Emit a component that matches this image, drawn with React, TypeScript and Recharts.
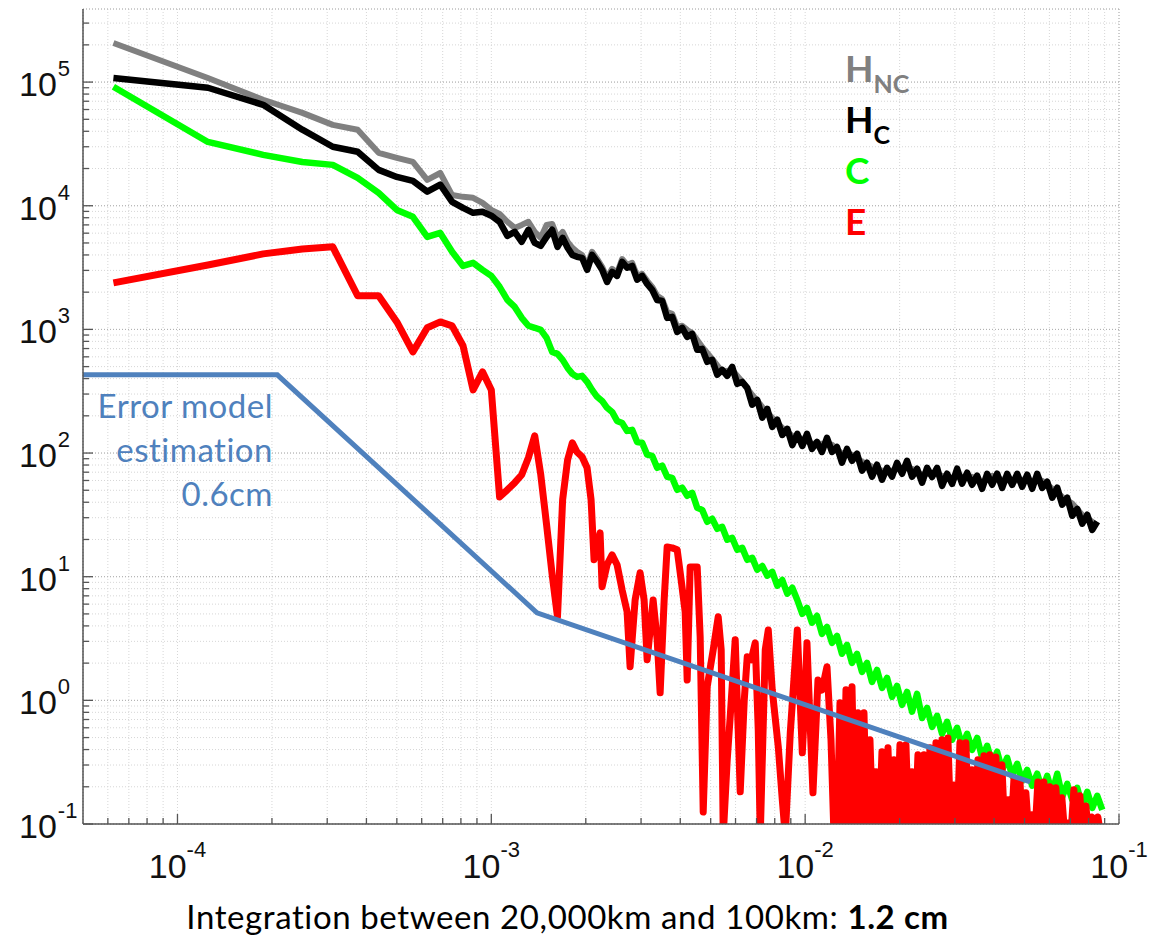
import React from 'react';
import { LineChart, Line, XAxis, YAxis, CartesianGrid, Legend } from 'recharts';

const CHART_W = 1151;
const CHART_H = 942;
const AXIS_COLOR = '#555555';
const TICK_FONT = '"Liberation Sans", Arial, Helvetica, sans-serif';
const TEXT_FONT = 'Lato, "Open Sans", sans-serif';

// shared frequency grid (cycles/km) for H_NC, H_C and C
const freqGrid = [
  6.25e-5, 1.25e-4, 1.875e-4, 2.5e-4, 3.125e-4, 3.75e-4, 4.375e-4, 5e-4, 5.625e-4, 6.25e-4,
  6.875e-4, 7.5e-4, 8.125e-4, 8.75e-4, 9.375e-4, 1e-3, 1.0625e-3, 1.125e-3, 1.1875e-3, 1.25e-3,
  1.3125e-3, 1.375e-3, 1.4375e-3, 1.5e-3, 1.5625e-3, 1.625e-3, 1.6875e-3, 1.75e-3, 1.8125e-3, 1.875e-3,
  1.946e-3, 2.019e-3, 2.094e-3, 2.173e-3, 2.254e-3, 2.338e-3, 2.426e-3, 2.516e-3, 2.611e-3, 2.708e-3,
  2.81e-3, 2.915e-3, 3.024e-3, 3.137e-3, 3.254e-3, 3.376e-3, 3.502e-3, 3.633e-3, 3.769e-3, 3.91e-3,
  4.056e-3, 4.208e-3, 4.365e-3, 4.529e-3, 4.698e-3, 4.874e-3, 5.056e-3, 5.245e-3, 5.441e-3, 5.645e-3,
  5.856e-3, 6.075e-3, 6.302e-3, 6.538e-3, 6.783e-3, 7.036e-3, 7.3e-3, 7.573e-3, 7.856e-3, 8.15e-3,
  8.455e-3, 8.771e-3, 9.099e-3, 9.44e-3, 9.793e-3, 1.0133e-2, 1.0512e-2, 1.0905e-2, 1.1313e-2, 1.1736e-2,
  1.2176e-2, 1.2631e-2, 1.3103e-2, 1.3593e-2, 1.4102e-2, 1.4629e-2, 1.5176e-2, 1.5744e-2, 1.6333e-2, 1.6943e-2,
  1.7578e-2, 1.8235e-2, 1.8917e-2, 1.9625e-2, 2.0359e-2, 2.112e-2, 2.1911e-2, 2.273e-2, 2.3581e-2, 2.4462e-2,
  2.5377e-2, 2.6327e-2, 2.7311e-2, 2.8333e-2, 2.9393e-2, 3.0492e-2, 3.1633e-2, 3.2817e-2, 3.4044e-2, 3.5318e-2,
  3.6639e-2, 3.8009e-2, 3.9431e-2, 4.0906e-2, 4.2436e-2, 4.4023e-2, 4.5669e-2, 4.7378e-2, 4.915e-2, 5.0989e-2,
  5.2896e-2, 5.4875e-2, 5.6928e-2, 5.9057e-2, 6.1266e-2, 6.3558e-2, 6.5935e-2, 6.8402e-2, 7.096e-2, 7.3615e-2,
  7.6368e-2, 7.9226e-2, 8.2189e-2, 8.5263e-2, 8.8453e-2,
];

const hncPower = [
  207000, 108000, 72000, 56400, 45100, 41200, 26800, 24400, 22600, 16200,
  18400, 12200, 11800, 11600, 10550, 9250, 8600, 7420, 6620, 7000,
  7420, 6150, 5500, 7000, 7130, 5500, 6150, 5110, 4570, 4240,
  4000, 3260, 4240, 3710, 3210, 2610, 3090, 2860, 3710, 3320,
  3450, 2710, 2810, 2470, 2210, 1870, 1760, 1380, 1335, 1047,
  1070, 990, 935, null, 720, null, 578, null, 454, null,
  470, null, 377, null, 295, null, 236, null, 193, null,
  160, null, 138, null, 130, null, 119, null, 119, null,
  116.5, null, 98.6, null, 97, null, 85, null, 77.4, null,
  72, null, 72, null, 76, null, 74.6, null, 66.7, null,
  69, null, 65.5, null, 63, null, 64.3, null, 64.3, null,
  57.6, null, 65.5, null, 60.8, null, 59.6, null, 60.8, null,
  59.6, null, 59.6, null, 51.5, null, 44.2, null, 39.1, null,
  31.6, null, 27.8, 25.8, null,
];

const hcPower = [
  108000, 90000, 65500, 41200, 30000, 27300, 19500, 17100, 15900, 13000,
  14800, 10750, 9600, 8760, 8930, 8300, 7420, 5710, 6150, 5110,
  6390, 5010, 4740, 5600, 6390, 4650, 5500, 4570, 4000, 3860,
  3790, 3030, 4000, 3520, 3030, 2420, 2920, 2710, 3520, 3150,
  3260, 2520, 2710, 2330, 2090, 1730, 1701, 1239, 1262, 954,
  1029, 870, 920, 684, 696, 547, 567, 430, 471, 421,
  497, 363, 376, 337, 246, 269, 193, 228, 163, 186,
  140, 157, 116, 143, 114, 143, 108, 123, 102, 133,
  102, 112, 83.6, 108, 86.6, 98.7, 72, 83.4, 64.3, 80.5,
  60.9, 76, 64.4, 83.4, 68, 86.6, 64.4, 74.7, 57.5, 76,
  64, 76, 54.3, 68.1, 56.3, 74.7, 56.5, 69.3, 55.4, 65.6,
  51.4, 68, 55.4, 68.1, 52.3, 67.9, 55.3, 68, 53.4, 66.8,
  51.4, 67.9, 52.3, 58.6, 43.5, 52.4, 38.2, 43.5, 31.1, 35.4,
  26.8, 31.7, 23.9, 27.9, null,
];

const cPower = [
  91700, 32800, 25800, 22600, 21400, 16800, 12700, 9250, 8130, 5600,
  6030, 4240, 3260, 3450, 3030, 2710, 2210, 1730, 1520, 1240,
  1070, 1030, 990, 854, 658, 634, 567, 488, 437, 413,
  421, 377, 324, 285, 264, 232, 215, 182, 175, 151,
  154, 123, 121, 97, 95, 76, 79, 64.3, 63, 50.4,
  52.5, 45.1, 47.7, 36.1, 34.7, 27.8, 29.4, 24.4, 25.3, 19.9,
  20.6, 16.5, 17.1, 13.7, 14.2, 11.4, 12.2, 10.2, 10.95, 8.45,
  9.4, 7.28, 8.13, 6.48, 5.01, 5.6, 4.24, 4.83, 3.45, 3.93,
  2.92, 3.32, 2.38, 2.81, 2.01, 2.38, 1.7, 2.01, 1.41, 1.76,
  1.26, 1.52, 1.067, 1.31, 0.92, 1.17, 0.81, 1.13, 0.72, 0.87,
  0.61, 0.75, 0.536, 0.67, 0.48, 0.6, 0.429, 0.536, 0.398, 0.497,
  0.343, 0.429, 0.313, 0.384, 0.274, 0.343, 0.245, 0.307, 0.224, 0.274,
  0.204, 0.255, 0.189, 0.245, 0.179, 0.255, 0.166, 0.211, 0.157, 0.196,
  0.14, 0.182, 0.135, 0.169, 0.13,
];

// E is much spikier at high frequency, so it keeps its own, denser grid
const errFreq = [
  6.25e-5, 1.25e-4, 1.875e-4, 2.5e-4, 3.125e-4, 3.75e-4, 4.375e-4, 5e-4, 5.625e-4, 6.25e-4,
  6.875e-4, 7.5e-4, 8.125e-4, 8.75e-4, 9.375e-4, 1e-3, 1.0625e-3, 1.125e-3, 1.1875e-3, 1.25e-3,
  1.3125e-3, 1.375e-3, 1.4375e-3, 1.5e-3, 1.5625e-3, 1.625e-3, 1.6875e-3, 1.75e-3, 1.8125e-3, 1.875e-3,
  1.946e-3, 2.019e-3, 2.079e-3, 2.125e-3, 2.221e-3, 2.254e-3, 2.338e-3, 2.426e-3, 2.516e-3, 2.611e-3,
  2.708e-3, 2.768e-3, 2.872e-3, 2.979e-3, 3.068e-3, 3.137e-3, 3.278e-3, 3.376e-3, 3.451e-3, 3.554e-3,
  3.633e-3, 3.769e-3, 3.91e-3, 4.026e-3, 4.146e-3, 4.208e-3, 4.301e-3, 4.529e-3, 4.629e-3, 4.733e-3,
  4.874e-3, 5.093e-3, 5.284e-3, 5.401e-3, 5.482e-3, 5.645e-3, 5.77e-3, 5.986e-3, 6.21e-3, 6.396e-3,
  6.538e-3, 6.733e-3, 6.933e-3, 7.088e-3, 7.193e-3, 7.462e-3, 7.629e-3, 7.856e-3, 8.21e-3, 8.455e-3,
  8.643e-3, 8.966e-3, 9.301e-3, 9.44e-3, 9.793e-3, 9.985e-3, 1.0133e-2, 1.0359e-2, 1.0589e-2, 1.0986e-2,
  1.1313e-2, 1.1736e-2, 1.2087e-2, 1.2355e-2, 1.2631e-2,
  1.2912e-2, 1.3199e-2, 1.3493e-2, 1.3793e-2, 1.41e-2, 1.4413e-2, 1.4734e-2, 1.5062e-2, 1.5397e-2, 1.5739e-2,
  1.6089e-2, 1.6447e-2, 1.6813e-2, 1.7187e-2, 1.7569e-2, 1.796e-2, 1.8359e-2, 1.8767e-2, 1.9185e-2, 1.9611e-2,
  2.0047e-2, 2.0493e-2, 2.0949e-2, 2.1415e-2, 2.1891e-2, 2.2378e-2, 2.2876e-2, 2.3385e-2, 2.3905e-2, 2.4437e-2,
  2.498e-2, 2.5536e-2, 2.6104e-2, 2.6684e-2, 2.7278e-2, 2.7884e-2, 2.8504e-2, 2.9138e-2, 2.9786e-2, 3.0449e-2,
  3.1126e-2, 3.1818e-2, 3.2526e-2, 3.3249e-2, 3.3989e-2, 3.4745e-2, 3.5518e-2, 3.6308e-2, 3.7115e-2, 3.7941e-2,
  3.8785e-2, 3.9647e-2, 4.0529e-2, 4.143e-2, 4.2352e-2, 4.3294e-2, 4.4257e-2, 4.5241e-2, 4.6247e-2, 4.7276e-2,
  4.8327e-2, 4.9402e-2, 5.0501e-2, 5.1624e-2, 5.2772e-2, 5.3946e-2, 5.5146e-2, 5.6372e-2, 5.7626e-2, 5.8908e-2,
  6.0218e-2, 6.1557e-2, 6.2926e-2, 6.4326e-2, 6.5757e-2, 6.7219e-2, 6.8714e-2, 7.0243e-2, 7.1805e-2, 7.3402e-2,
  7.5035e-2, 7.6704e-2, 7.841e-2, 8.0154e-2, 8.1937e-2, 8.3759e-2, 8.5622e-2, 8.7527e-2,
];

const errPower = [
  2380, 3320, 4080, 4470, 4650, 1870, 1870, 1150, 658, 1030,
  1150, 1067, 737, 324, 454, 324, 44.2, 50.4, 57.6, 66.7,
  91.7, 138, 66.7, 26.3, 10.4, 4.74, 41.9, 88, 121, 102,
  93.3, 76, 41.9, 13.7, 22.6, 8.3, 12.5, 15, 12.5, 7.82,
  5.2, 1.87, 6.48, 10.75, 6.48, 2.13, 6.48, 3.09, 1.15, 6.48,
  17.4, 17.1, 16.5, 9.4, 5.2, 1.46, 12, 12, 3.26, 0.125,
  1.29, 2.56, 4.74, 2.56, 0.08, 0.331, 0.737, 3.09, 0.182, 1.0,
  2.25, 2.13, 2.92, 0.578, 0.08, 2.56, 3.71, 1.21, 0.421, 0.157,
  0.08, 0.547, 2.13, 3.71, 0.377, 1.0, 2.92, 0.696, 0.179, 1.46,
  1.21, 1.87, 0.48, 0.08, 0.08,
  0.955, 0.08, 1.22, 0.08, 1.29, 0.08, 0.793, 0.08, 0.793, 0.08,
  0.48, 0.08, 0.264, 0.08, 0.384, 0.08, 0.413, 0.08, 0.331, 0.08,
  0.437, 0.08, 0.437, 0.08, 0.264, 0.08, 0.363, 0.08, 0.363, 0.08,
  0.413, 0.08, 0.454, 0.08, 0.48, 0.08, 0.497, 0.08, 0.207, 0.08,
  0.454, 0.08, 0.454, 0.08, 0.274, 0.08, 0.331, 0.08, 0.356, 0.08,
  0.363, 0.08, 0.349, 0.08, 0.301, 0.08, 0.157, 0.08, 0.228, 0.08,
  0.228, 0.08, 0.179, 0.08, 0.119, 0.08, 0.219, 0.08, 0.219, 0.08,
  0.2, 0.08, 0.196, 0.08, 0.163, 0.08, 0.102, 0.08, 0.189, 0.08,
  0.169, 0.08, 0.14, 0.08, 0.114, 0.08, 0.114, 0.08,
];

// blue "error model" broken line
const modelFreq = [5e-5, 2.08e-4, 1.398e-3, 5.21e-2];
const modelPower = [429, 429, 5.11, 0.219];

const xMajorTicks = [1e-4, 1e-3, 1e-2, 1e-1];
const yMajorTicks = [1e-1, 1, 1e1, 1e2, 1e3, 1e4, 1e5];
const minorSteps = [2, 3, 4, 5, 6, 7, 8, 9];

const X_DOMAIN: [number, number] = [5e-5, 0.1];
const Y_DOMAIN: [number, number] = [0.1, 3.9e5];

const seriesMeta = [
  { key: 'hnc', main: 'H', sub: 'NC', color: '#808080' },
  { key: 'hc', main: 'H', sub: 'C', color: '#000000' },
  { key: 'c', main: 'C', sub: '', color: '#00ff00' },
  { key: 'e', main: 'E', sub: '', color: '#ff0000' },
];

const minorsIn = (decades: number[], [lo, hi]: [number, number]) =>
  decades
    .flatMap((d) => minorSteps.map((m) => m * d))
    .filter((v) => v > lo * 1.0001 && v < hi * 0.9999);

const xMinorTicks = minorsIn([1e-5, 1e-4, 1e-3, 1e-2], X_DOMAIN);
const yMinorTicks = minorsIn([1e-1, 1, 1e1, 1e2, 1e3, 1e4, 1e5], Y_DOMAIN);
const xAllTicks = [...xMajorTicks, ...xMinorTicks].sort((a, b) => a - b);
const yAllTicks = [...yMajorTicks, ...yMinorTicks].sort((a, b) => a - b);

const gridRows = freqGrid.map((k, i) => ({ k, hnc: hncPower[i], hc: hcPower[i], c: cPower[i] }));
const errRows = errFreq.map((k, i) => ({ k, e: errPower[i] }));
const modelRows = modelFreq.map((k, i) => ({ k, m: modelPower[i] }));

const isMajor = (v: number) => Math.abs(Math.log10(v) - Math.round(Math.log10(v))) < 1e-6;
const expo = (v: number) => Math.round(Math.log10(v));
const tickLen = (v: number) => (isMajor(v) ? 10 : 6);

const BottomTick = (props: any) => {
  const { x, y, payload } = props;
  const v = payload.value;
  return (
    <g>
      <line x1={x} y1={y} x2={x} y2={y - tickLen(v)} stroke={AXIS_COLOR} strokeWidth={1.3} />
      {isMajor(v) && (
        <text x={x} y={y + 54} textAnchor="middle" fontFamily={TICK_FONT} fontSize={34} fill="#111">
          10
          <tspan dy={-21} fontSize={22}>
            {expo(v)}
          </tspan>
        </text>
      )}
    </g>
  );
};

const TopTick = (props: any) => {
  const { x, y, payload } = props;
  return <line x1={x} y1={y} x2={x} y2={y + tickLen(payload.value)} stroke={AXIS_COLOR} strokeWidth={1.3} />;
};

const LeftTick = (props: any) => {
  const { x, y, payload } = props;
  const v = payload.value;
  return (
    <g>
      <line x1={x} y1={y} x2={x + tickLen(v)} y2={y} stroke={AXIS_COLOR} strokeWidth={1.3} />
      {isMajor(v) && (
        <text x={x - 64} y={y + 14} textAnchor="start" fontFamily={TICK_FONT} fontSize={34} fill="#111">
          10
          <tspan dx={1} dy={-20} fontSize={22}>
            {expo(v)}
          </tspan>
        </text>
      )}
    </g>
  );
};

const RightTick = (props: any) => {
  const { x, y, payload } = props;
  return <line x1={x} y1={y} x2={x - tickLen(payload.value)} y2={y} stroke={AXIS_COLOR} strokeWidth={1.3} />;
};

const SeriesLegend = () => (
  <div style={{ fontFamily: TEXT_FONT, fontWeight: 700, fontSize: 37, lineHeight: '51px' }}>
    {seriesMeta.map((s) => (
      <div key={s.key} style={{ color: s.color, height: 51, whiteSpace: 'nowrap' }}>
        {s.main}
        {s.sub && <span style={{ fontSize: 25, position: 'relative', top: 11 }}>{s.sub}</span>}
      </div>
    ))}
  </div>
);

const axisLineStyle = { stroke: AXIS_COLOR, strokeWidth: 1.5 };

export default function App() {
  return (
    <div style={{ position: 'absolute', left: 0, top: 0, width: CHART_W, height: CHART_H, background: '#fff' }}>
      <LineChart
        width={CHART_W}
        height={CHART_H}
        data={gridRows}
        margin={{ top: 9, right: 32, bottom: 58, left: 0 }}
      >
        <CartesianGrid stroke="#d6d6d6" strokeDasharray="1 2" />
        <CartesianGrid xAxisId="top" yAxisId="right" stroke="#aeaeae" strokeDasharray="1 2" />
        <XAxis
          dataKey="k"
          type="number"
          scale="log"
          domain={X_DOMAIN}
          allowDataOverflow
          ticks={xAllTicks}
          interval={0}
          tickSize={0}
          tickMargin={0}
          tickLine={false}
          axisLine={axisLineStyle}
          tick={<BottomTick />}
          height={60}
        />
        <XAxis
          xAxisId="top"
          orientation="top"
          type="number"
          scale="log"
          domain={X_DOMAIN}
          allowDataOverflow
          ticks={xMajorTicks}
          interval={0}
          tickSize={0}
          tickMargin={0}
          tickLine={false}
          axisLine={axisLineStyle}
          tick={<TopTick />}
          height={0}
        />
        <XAxis
          xAxisId="topMinor"
          orientation="top"
          type="number"
          scale="log"
          domain={X_DOMAIN}
          allowDataOverflow
          ticks={xMinorTicks}
          interval={0}
          tickSize={0}
          tickMargin={0}
          tickLine={false}
          axisLine={false}
          tick={<TopTick />}
          height={0}
        />
        <YAxis
          type="number"
          scale="log"
          domain={Y_DOMAIN}
          allowDataOverflow
          ticks={yAllTicks}
          interval={0}
          tickSize={0}
          tickMargin={0}
          tickLine={false}
          axisLine={axisLineStyle}
          tick={<LeftTick />}
          width={83}
        />
        <YAxis
          yAxisId="right"
          orientation="right"
          type="number"
          scale="log"
          domain={Y_DOMAIN}
          allowDataOverflow
          ticks={yMajorTicks}
          interval={0}
          tickSize={0}
          tickMargin={0}
          tickLine={false}
          axisLine={axisLineStyle}
          tick={<RightTick />}
          width={0}
        />
        <YAxis
          yAxisId="rightMinor"
          orientation="right"
          type="number"
          scale="log"
          domain={Y_DOMAIN}
          allowDataOverflow
          ticks={yMinorTicks}
          interval={0}
          tickSize={0}
          tickMargin={0}
          tickLine={false}
          axisLine={false}
          tick={<RightTick />}
          width={0}
        />
        <Legend
          layout="vertical"
          align="center"
          verticalAlign="middle"
          content={() => <SeriesLegend />}
          wrapperStyle={{ left: 845, top: 42, width: 140, height: 210 }}
        />
        <Line
          dataKey="hnc"
          name="HNC"
          stroke="#808080"
          strokeWidth={6}
          strokeLinejoin="round"
          dot={false}
          activeDot={false}
          connectNulls
          isAnimationActive={false}
        />
        <Line
          dataKey="hc"
          name="HC"
          stroke="#000000"
          strokeWidth={6.5}
          strokeLinejoin="round"
          dot={false}
          activeDot={false}
          isAnimationActive={false}
        />
        <Line
          dataKey="c"
          name="C"
          stroke="#00ff00"
          strokeWidth={6.5}
          strokeLinejoin="round"
          dot={false}
          activeDot={false}
          isAnimationActive={false}
        />
        <Line
          data={errRows}
          dataKey="e"
          name="E"
          stroke="#ff0000"
          strokeWidth={7}
          strokeLinejoin="round"
          dot={false}
          activeDot={false}
          isAnimationActive={false}
        />
        <Line
          data={modelRows}
          dataKey="m"
          name="Error model"
          stroke="#4f81bd"
          strokeWidth={5}
          dot={false}
          activeDot={false}
          legendType="none"
          isAnimationActive={false}
        />
      </LineChart>

      <div
        style={{
          position: 'absolute',
          left: 0,
          top: 383,
          width: 273,
          textAlign: 'right',
          fontFamily: TEXT_FONT,
          fontSize: 33,
          letterSpacing: 0.5,
          lineHeight: '44px',
          color: '#4f81bd',
        }}
      >
        Error model
        <br />
        estimation
        <br />
        0.6cm
      </div>

      <div
        style={{
          position: 'absolute',
          left: 0,
          top: 896,
          width: 1135,
          textAlign: 'center',
          fontFamily: TEXT_FONT,
          fontSize: 33,
          letterSpacing: 0.6,
          lineHeight: '40px',
          color: '#000',
        }}
      >
        Integration between 20,000km and 100km: <b>1.2 cm</b>
      </div>
    </div>
  );
}
